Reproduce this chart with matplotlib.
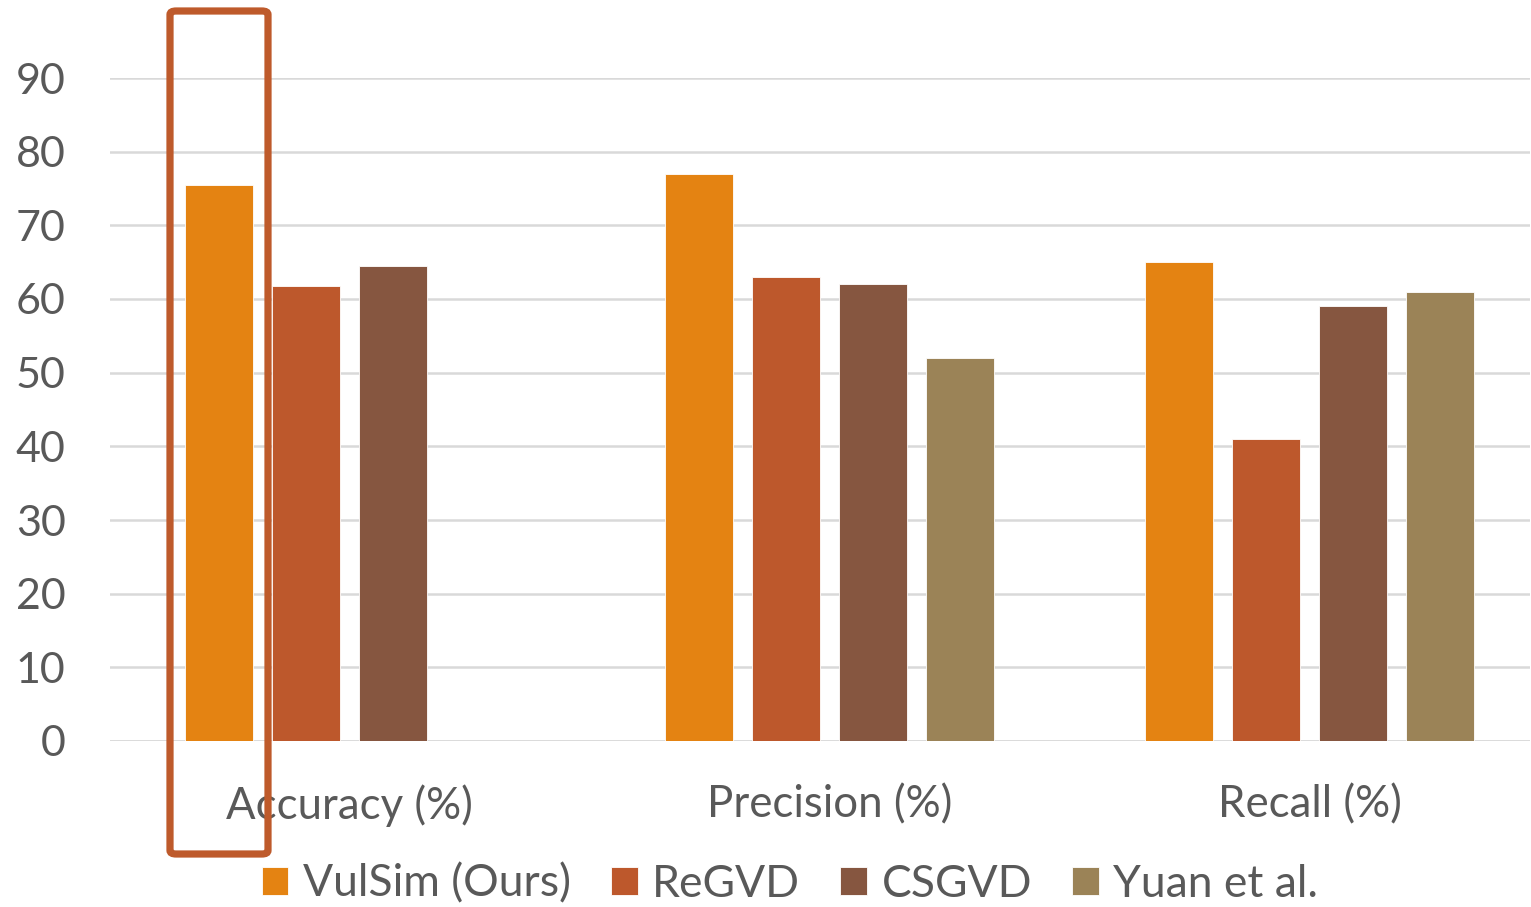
import numpy as np
import matplotlib
matplotlib.use("Agg")
import matplotlib.pyplot as plt
from matplotlib.patches import FancyBboxPatch

categories = ["Accuracy (%)", "Precision (%)", "Recall (%)"]
series_names = ["VulSim (Ours)", "ReGVD", "CSGVD", "Yuan et al."]
vulsim = [75.5, 77.0, 65.0]
regvd = [61.8, 63.0, 41.0]
csgvd = [64.5, 62.0, 59.0]
yuan = [np.nan, 52.0, 61.0]
yticks = [0, 10, 20, 30, 40, 50, 60, 70, 80, 90]
colors = ["#E48312", "#BD582C", "#865640", "#9B8357"]

plt.rcParams['font.family'] = ['Lato', 'DejaVu Sans']

W, H = 1531, 907
fig = plt.figure(figsize=(W / 100, H / 100), dpi=100)
ax = fig.add_axes([110 / W, 1 - 741 / H, (1530 - 110) / W, (741 - 78) / H])

x = np.arange(len(categories))
width = 0.1417
step = 0.181
all_series = [vulsim, regvd, csgvd, yuan]
for i, (vals, name, c) in enumerate(zip(all_series, series_names, colors)):
    offs = (i - 1.5) * step
    ax.bar(x + offs, np.array(vals, dtype=float), width, color=c, label=name,
           edgecolor="white", linewidth=0.6, zorder=3)

ax.set_xlim(-0.499, 2.459)
ax.set_ylim(0, 90)
ax.set_yticks(yticks)
ax.set_yticklabels([str(t) for t in yticks])
ax.set_xticks(x)
ax.set_xticklabels(categories)
ax.grid(axis="y", color="#d9d9d9", linewidth=1.8, zorder=0)
ax.set_axisbelow(True)
for s in ax.spines.values():
    s.set_visible(False)
ax.axhline(0, color="#d9d9d9", linewidth=1.8, zorder=1)
ax.tick_params(axis="both", length=0, colors="#595959")
ax.tick_params(axis="y", pad=32, labelsize=31)
ax.tick_params(axis="x", pad=31, labelsize=31.5)

leg = fig.legend(loc="center", bbox_to_anchor=(790 / W, 1 - 884 / H), ncol=4,
                 frameon=False, fontsize=32, handlelength=0.6, handleheight=0.6,
                 handletextpad=0.33, columnspacing=0.9, labelcolor="#595959")

rect = FancyBboxPatch((170 / W, 1 - 854 / H), (268 - 170) / W, (854 - 11) / H,
                      boxstyle="round,pad=0,rounding_size=0.004",
                      transform=fig.transFigure, fill=False,
                      edgecolor="#BE5A2B", linewidth=5.2, zorder=10)
fig.patches.append(rect)

fig.savefig("out.png", dpi=100)
